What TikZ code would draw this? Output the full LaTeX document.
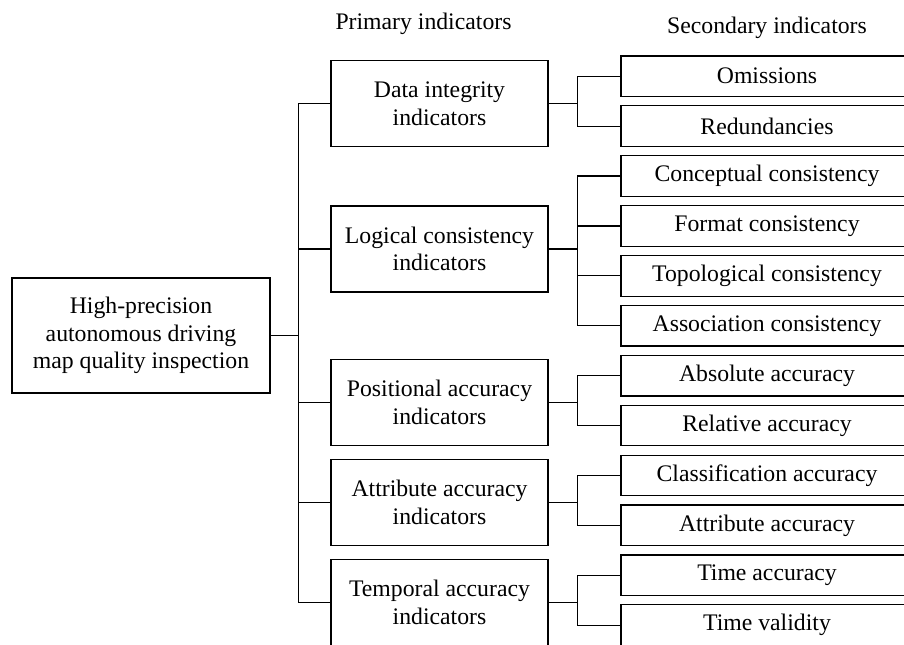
\documentclass[tikz,border=0pt]{standalone}
\usepackage{fontspec}
\setmainfont{Liberation Serif}
\begin{document}
\begin{tikzpicture}[x=0.75pt, y=-0.75pt,
        every node/.style={font=\fontsize{17.8}{20.8}\selectfont},
        box/.style={rectangle, draw, line width=0.9pt, align=center, inner sep=0pt},
        rootbox/.style={box, minimum width=193.5pt, minimum height=86.25pt},
        primbox/.style={box, minimum width=162.75pt, minimum height=64.5pt},
        secbox/.style={box, minimum width=219pt, minimum height=30.4pt},
        link/.style={line width=0.9pt}]
        \clip (0,0) rectangle (904,644);

        \node (hprim) [anchor=base] at (423.5,29) {Primary indicators};
        \node (hsec) [anchor=base] at (767,33) {Secondary indicators};

        \node (root) [rootbox] at (141,335.5) {High-precision\\autonomous driving\\map quality inspection};

        \node (integ) [primbox] at (439.5,103.5) {Data integrity\\indicators};
        \node (logic) [primbox] at (439.5,249) {Logical consistency\\indicators};
        \node (posit) [primbox] at (439.5,402.5) {Positional accuracy\\indicators};
        \node (attr) [primbox] at (439.5,502.5) {Attribute accuracy\\indicators};
        \node (temp) [primbox] at (439.5,602.5) {Temporal accuracy\\indicators};

        \node (omis) [secbox] at (767,76.25) {Omissions};
        \node (redun) [secbox] at (767,126.15) {Redundancies};
        \node (concept) [secbox] at (767,176.05) {Conceptual consistency};
        \node (format) [secbox] at (767,225.95) {Format consistency};
        \node (topo) [secbox] at (767,275.85) {Topological consistency};
        \node (assoc) [secbox] at (767,325.75) {Association consistency};
        \node (absacc) [secbox] at (767,375.65) {Absolute accuracy};
        \node (relacc) [secbox] at (767,425.55) {Relative accuracy};
        \node (classacc) [secbox] at (767,475.45) {Classification accuracy};
        \node (attracc) [secbox] at (767,525.35) {Attribute accuracy};
        \node (timeacc) [secbox] at (767,575.25) {Time accuracy};
        \node (timeval) [secbox] at (767,625.15) {Time validity};

        \draw [link] (root.east) -- ++(28,0) |- (integ.west);
        \draw [link] (root.east) -- ++(28,0) |- (logic.west);
        \draw [link] (root.east) -- ++(28,0) |- (posit.west);
        \draw [link] (root.east) -- ++(28,0) |- (attr.west);
        \draw [link] (root.east) -- ++(28,0) |- (temp.west);

        \draw [link] (integ.east) -- ++(29,0) |- (omis.west);
        \draw [link] (integ.east) -- ++(29,0) |- (redun.west);
        \draw [link] (logic.east) -- ++(29,0) |- (concept.west);
        \draw [link] (logic.east) -- ++(29,0) |- (format.west);
        \draw [link] (logic.east) -- ++(29,0) |- (topo.west);
        \draw [link] (logic.east) -- ++(29,0) |- (assoc.west);
        \draw [link] (posit.east) -- ++(29,0) |- (absacc.west);
        \draw [link] (posit.east) -- ++(29,0) |- (relacc.west);
        \draw [link] (attr.east) -- ++(29,0) |- (classacc.west);
        \draw [link] (attr.east) -- ++(29,0) |- (attracc.west);
        \draw [link] (temp.east) -- ++(29,0) |- (timeacc.west);
        \draw [link] (temp.east) -- ++(29,0) |- (timeval.west);
    \end{tikzpicture}
\end{document}
